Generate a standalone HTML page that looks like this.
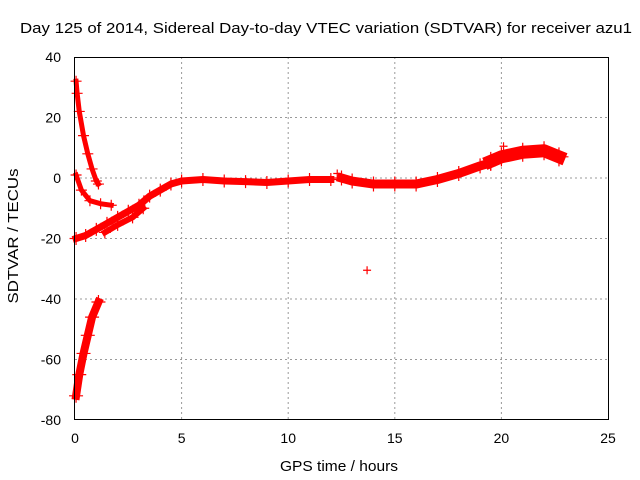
<!DOCTYPE html>
<html><head><meta charset="utf-8"><style>
body{margin:0;background:#fff}
svg{display:block;font-family:"Liberation Sans",sans-serif}
</style></head><body>
<svg id="c" width="640" height="480">
<text x="326" y="33" text-anchor="middle" font-size="15" textLength="612" lengthAdjust="spacingAndGlyphs">Day 125 of 2014, Sidereal Day-to-day VTEC variation (SDTVAR) for receiver azu1</text>
<text x="339" y="471" text-anchor="middle" font-size="15" textLength="118" lengthAdjust="spacingAndGlyphs">GPS time / hours</text>
<text transform="translate(18,236) rotate(-90)" text-anchor="middle" font-size="15" textLength="135" lengthAdjust="spacingAndGlyphs">SDTVAR / TECUs</text>
<g id="grid"></g><g id="marks"></g>
<rect x="74.5" y="57.5" width="534" height="362" fill="none" stroke="#000"/>
</svg>
<script>
const xTicks=[0,5,10,15,20,25];
const yTicks=[40,20,0,-20,-40,-60,-80];
const segTopDecay=[[0.05,32],[0.1,28],[0.2,22],[0.4,14],[0.6,8],[0.8,3],[1.0,-1],[1.1,-2]];
const segLowerCurve=[[0.05,1],[0.3,-4],[0.7,-7.5],[1.2,-8.5],[1.7,-9]];
const segMain1=[[0.05,-20],[0.5,-19],[1,-17],[1.5,-15],[2,-13],[2.5,-11],[3,-9],[3.5,-6],[4,-4],[4.5,-2],[5,-1],[6,-0.5],[7,-1],[8,-1.2],[9,-1.5],[10,-1],[11,-0.5],[12,-0.5]];
const segMainBranch=[[1.4,-18],[2,-15.5],[2.7,-13],[3.2,-10]];
const segMain2=[[12.5,0],[13,-1],[14,-2],[15,-2],[16,-2],[17,-0.5],[18,1.5],[19,4],[19.5,5]];
const segMain3=[[19.5,5.5],[20,7],[21,8.5],[22,9],[22.7,7]];
const segBottom=[[0.05,-72],[0.2,-65],[0.4,-58],[0.6,-52],[0.8,-46],[1.1,-41]];
const outliers=[[13.7,-30.5],[20.1,10.5],[12.3,1.5]];
const X0=75,X1=608,Y0=57,Y1=420;
const sx=v=>X0+(v-0)/(25-0)*(X1-X0);
const sy=v=>Y1-(v+80)/120*(Y1-Y0);
const NS="http://www.w3.org/2000/svg";
const grid=document.getElementById('grid'),marks=document.getElementById('marks');
function mk(t,a,p){const e=document.createElementNS(NS,t);for(const k in a)e.setAttribute(k,a[k]);p.appendChild(e);return e;}
xTicks.forEach(v=>{
 const x=sx(v);
 if(v>0&&v<25){const g=mk('line',{x1:x,x2:x,y1:Y0,y2:Y1,stroke:'#999','stroke-dasharray':'2,3'},grid);
 
 }
 const t=mk('text',{x:x,y:443,'text-anchor':'middle','font-size':'14'},grid);t.textContent=v;
 
 
});
yTicks.forEach(v=>{
 const y=sy(v);
 if(v<40&&v>-80){const g=mk('line',{x1:X0,x2:X1,y1:y,y2:y,stroke:'#999','stroke-dasharray':'2,3'},grid);
 
 }
 const t=mk('text',{x:61,y:y+5,'text-anchor':'end','font-size':'14'},grid);t.textContent=v;
 
 
});
function band(d,w,name){
 const p=mk('polyline',{points:d.map(q=>sx(q[0])+','+sy(q[1])).join(' '),fill:'none',stroke:'#f00','stroke-width':w,'stroke-linejoin':'round','stroke-linecap':'square'},marks);
 
 
 d.forEach(q=>plus(q[0],q[1],w/2+3));
}
function plus(a,b,s){
 const x=sx(a),y=sy(b);
 const g=mk('path',{d:`M${x-s},${y}H${x+s}M${x},${y-s}V${y+s}`,stroke:'#f00','stroke-width':1.2},marks);
 
 
}
band(segTopDecay,5,'series-top-decay');
band(segLowerCurve,5,'series-lower-curve');
band(segMain1,7,'series-main-early');
band(segMainBranch,6,'series-main-branch');
band(segMain2,9,'series-main-late');
band(segMain3,13,'series-main-end');
band(segBottom,8,'series-bottom-rise');
outliers.forEach(q=>plus(q[0],q[1],4));
</script>
</body></html>
